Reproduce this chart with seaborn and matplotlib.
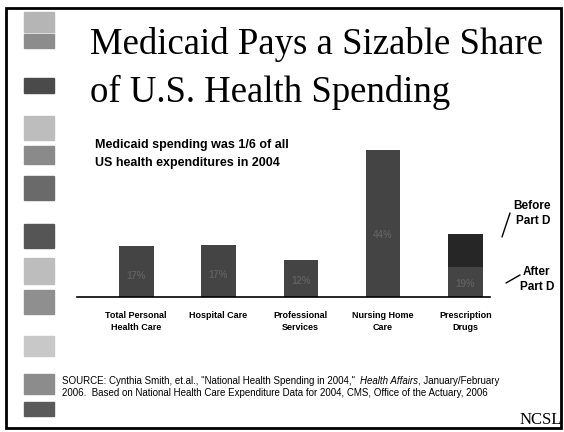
import numpy as np
import pandas as pd
import seaborn as sns
import matplotlib.pyplot as plt
from matplotlib.patches import Rectangle

# data
categories = ['Total Personal\nHealth Care', 'Hospital Care', 'Professional\nServices',
              'Nursing Home\nCare', 'Prescription\nDrugs']
share = [17, 17.5, 12.5, 49, 21]          # Medicaid share, %, before Part D
after_part_d = [17, 17.5, 12.5, 49, 10]   # share after Part D (differs only for drugs)
labels = ['17%', '17%', '12%', '44%', '19%']

df = pd.DataFrame({'category': categories, 'share': share, 'after': after_part_d})

sns.set_style('white')
plt.rcParams['font.family'] = ['Liberation Sans', 'DejaVu Sans']
plt.rcParams['text.color'] = 'black'
plt.rcParams['xtick.color'] = 'black'

fig = plt.figure(figsize=(5.64, 4.32), dpi=100)
W, H = 564, 432

def fx(px):
    return px / W

def fy(py):
    return 1 - py / H

# slide frame
fig.add_artist(Rectangle((fx(6), fy(428)), fx(555), 420 / H, fill=False,
                         edgecolor='black', linewidth=2, transform=fig.transFigure))

# decorative squares down the left edge
squares = [(12, 20, '#b5b5b5'), (34, 14, '#8c8c8c'), (78, 15, '#4a4a4a'),
           (116, 24, '#bdbdbd'), (146, 18, '#8a8a8a'), (176, 24, '#6a6a6a'),
           (224, 24, '#555555'), (258, 26, '#bdbdbd'), (290, 24, '#8f8f8f'),
           (336, 20, '#c8c8c8'), (374, 20, '#8c8c8c'), (402, 14, '#5a5a5a')]
for top, h, c in squares:
    fig.add_artist(Rectangle((fx(24), fy(top + h)), fx(30), h / H, color=c,
                             transform=fig.transFigure, zorder=0))

# title
fig.text(fx(90), fy(44), 'Medicaid Pays a Sizable Share', family='Liberation Serif',
         fontsize=26.5, va='center', ha='left')
fig.text(fx(90), fy(92), 'of U.S. Health Spending', family='Liberation Serif',
         fontsize=26.5, va='center', ha='left')

fig.text(fx(95), fy(145), 'Medicaid spending was 1/6 of all', fontsize=9,
         fontweight='bold', va='center')
fig.text(fx(95), fy(163), 'US health expenditures in 2004', fontsize=9,
         fontweight='bold', va='center')

# bar chart
ax = fig.add_axes([fx(77), fy(297), fx(413), 150 / H])
sns.barplot(data=df, x='category', y='share', color='#262626', width=0.42,
            saturation=1, linewidth=0, ax=ax)
sns.barplot(data=df, x='category', y='after', color='#444444', width=0.42,
            saturation=1, linewidth=0, ax=ax)
for i, lab in enumerate(labels):
    ax.text(i, after_part_d[i] * 0.42, lab, ha='center', va='center',
            fontsize=7, fontweight='bold', color='#5e5e5e')

ax.set_ylim(0, 50)
ax.set_xlim(-0.72, 4.3)
ax.set_xlabel('')
ax.set_ylabel('')
ax.set_yticks([])
ax.set_xticks(range(len(categories)))
ax.set_xticklabels(categories, fontsize=6.5, fontweight='bold', linespacing=1.5)
ax.tick_params(axis='x', length=0, pad=10)
ax.set_xticks([-0.5, 0.5, 1.5, 2.5, 3.5], minor=True)
ax.tick_params(axis='x', which='minor', length=3, width=0.8, color='black')
for side in ['top', 'right', 'left']:
    ax.spines[side].set_visible(False)
ax.spines['bottom'].set_color('black')
ax.spines['bottom'].set_linewidth(1.2)
ax.patch.set_alpha(0)

# Part D annotations
fig.text(fx(513), fy(206), 'Before', fontsize=8.5, fontweight='bold', va='center')
fig.text(fx(516), fy(221), 'Part D', fontsize=8.5, fontweight='bold', va='center')
fig.add_artist(plt.Line2D([fx(510), fx(502)], [fy(213), fy(237)], color='black',
                          linewidth=1, transform=fig.transFigure))
fig.text(fx(523), fy(272), 'After', fontsize=8.5, fontweight='bold', va='center')
fig.text(fx(520), fy(287), 'Part D', fontsize=8.5, fontweight='bold', va='center')
fig.add_artist(plt.Line2D([fx(520), fx(506)], [fy(275), fy(283)], color='black',
                          linewidth=1, transform=fig.transFigure))

# source, first line built from pieces so the italic journal name follows on
renderer = fig.canvas.get_renderer()
x = fx(62)
for piece, st in [('SOURCE: Cynthia Smith, et.al., "National Health Spending in 2004,"  ', 'normal'),
                  ('Health Affairs', 'italic'),
                  (', January/February', 'normal')]:
    t = fig.text(x, fy(381), piece, fontsize=7, style=st, va='center')
    bb = t.get_window_extent(renderer)
    x += bb.width / W
fig.text(fx(62), fy(393), '2006.  Based on National Health Care Expenditure Data for 2004, '
         'CMS, Office of the Actuary, 2006', fontsize=7, va='center')
fig.text(fx(562), fy(420), 'NCSL', family='Liberation Serif', fontsize=12,
         ha='right', va='center')

fig.savefig('out.png', dpi=100)
